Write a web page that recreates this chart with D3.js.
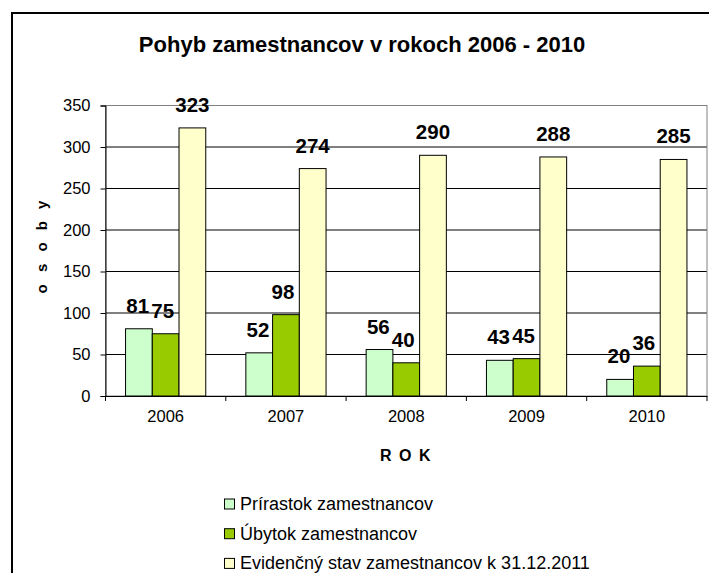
<!DOCTYPE html>
<html>
<head>
<meta charset="utf-8">
<script src="https://cdn.jsdelivr.net/npm/d3@7"></script>
<style>
  body { margin: 0; background: #fff; }
  text { font-family: Arial, "Liberation Sans", sans-serif; fill: #000; }
</style>
</head>
<body>
<div id="chart"></div>
<script>
// chart data
var years = ["2006", "2007", "2008", "2009", "2010"];
var seriesNames = ["Prírastok zamestnancov", "Úbytok zamestnancov", "Evidenčný stav zamestnancov k 31.12.2011"];
var prirastok = [81, 52, 56, 43, 20];
var ubytok = [75, 98, 40, 45, 36];
var evidencny = [323, 274, 290, 288, 285];
var yTicks = [0, 50, 100, 150, 200, 250, 300, 350];
var colors = ["#CCFFCC", "#99CC00", "#FFFFCC"];

var width = 709, height = 573;
var margin = { top: 105.5, left: 105.5, right: 2, bottom: 177 };

var svg = d3.select("#chart").append("svg")
    .attr("width", width)
    .attr("height", height);

// outer chart frame (runs off the right and bottom edge)
svg.append("rect")
    .attr("x", 12).attr("y", 13)
    .attr("width", 730).attr("height", 620)
    .attr("fill", "#fff")
    .attr("stroke", "#000")
    .attr("stroke-width", 2);

var x = d3.scaleBand()
    .domain(years)
    .range([margin.left, width - margin.right]);

var y = d3.scaleLinear()
    .domain([0, 350])
    .range([height - margin.bottom, margin.top]);

var series = [prirastok, ubytok, evidencny];
var barW = x.bandwidth() / 4.5;
var pad = (x.bandwidth() - 3 * barW) / 2;
// labels of the first two series are nudged left a bit, as in the original
var labelShift = [-1.2, -3, 0];

// gridlines
svg.append("g")
    .selectAll("line")
    .data(yTicks.slice(1))
    .enter()
    .append("line")
    .attr("x1", margin.left)
    .attr("x2", width - margin.right)
    .attr("y1", d => y(d))
    .attr("y2", d => y(d))
    .attr("stroke", "#000")
    .attr("stroke-width", 1);

// plot area border
svg.append("rect")
    .attr("x", margin.left)
    .attr("y", y(350))
    .attr("width", width - margin.right - margin.left)
    .attr("height", y(0) - y(350))
    .attr("fill", "none")
    .attr("stroke", "#808080");

// bars
series.forEach(function (vals, s) {
    svg.append("g")
        .selectAll("rect")
        .data(vals)
        .enter()
        .append("rect")
        .attr("x", (d, i) => x(years[i]) + pad + s * barW)
        .attr("y", d => y(d))
        .attr("width", barW)
        .attr("height", d => y(0) - y(d))
        .attr("fill", colors[s])
        .attr("stroke", "#000")
        .attr("stroke-width", 1);
});

// axes
var yAxis = svg.append("g")
    .attr("transform", "translate(" + margin.left + ",0)")
    .call(d3.axisLeft(y).tickValues(yTicks).tickSize(5).tickPadding(10));
yAxis.selectAll("text").style("font-size", "16.5px").style("font-family", "Arial, 'Liberation Sans', sans-serif");

var xAxis = svg.append("g")
    .attr("transform", "translate(0," + y(0) + ")")
    .call(d3.axisBottom(x).tickSize(0).tickPadding(14));
xAxis.selectAll("text").style("font-size", "16.5px").style("font-family", "Arial, 'Liberation Sans', sans-serif");

// x ticks sit on the category boundaries
svg.append("g")
    .selectAll("line")
    .data(years.concat(["end"]))
    .enter()
    .append("line")
    .attr("x1", (d, i) => margin.left + i * x.step())
    .attr("x2", (d, i) => margin.left + i * x.step())
    .attr("y1", y(0))
    .attr("y2", y(0) + 5)
    .attr("stroke", "#000");

[yAxis, xAxis].forEach(function (g) {
    g.select(".domain").attr("stroke", "#000");
    g.selectAll(".tick line").attr("stroke", "#000");
});

// value labels
series.forEach(function (vals, s) {
    svg.append("g")
        .selectAll("text")
        .data(vals)
        .enter()
        .append("text")
        .attr("x", (d, i) => x(years[i]) + pad + s * barW + barW / 2 + labelShift[s])
        .attr("y", d => y(d) - 16)
        .attr("text-anchor", "middle")
        .style("font-size", "20.5px")
        .style("font-weight", "bold")
        .text(d => d);
});

// title
svg.append("text")
    .attr("x", 362)
    .attr("y", 52)
    .attr("text-anchor", "middle")
    .style("font-size", "22px")
    .style("font-weight", "bold")
    .text("Pohyb zamestnancov v rokoch 2006 - 2010");

// axis titles
svg.append("text")
    .attr("transform", "translate(47,245) rotate(-90)")
    .attr("text-anchor", "middle")
    .style("font-size", "15px")
    .style("font-weight", "bold")
    .style("letter-spacing", "4px")
    .text("o s o b y");

svg.append("text")
    .attr("x", 406)
    .attr("y", 461)
    .attr("text-anchor", "middle")
    .style("font-size", "16px")
    .style("font-weight", "bold")
    .style("letter-spacing", "1.5px")
    .text("R O K");

// legend
var legend = svg.append("g")
    .selectAll("g")
    .data(seriesNames)
    .enter()
    .append("g")
    .attr("transform", (d, i) => "translate(224," + (504 + i * 29.7) + ")");

legend.append("rect")
    .attr("x", 0.5).attr("y", -5)
    .attr("width", 10).attr("height", 10)
    .attr("fill", (d, i) => colors[i])
    .attr("stroke", "#000");

legend.append("text")
    .attr("x", 16)
    .attr("y", 6)
    .style("font-size", "18px")
    .text(d => d);
</script>
</body>
</html>
